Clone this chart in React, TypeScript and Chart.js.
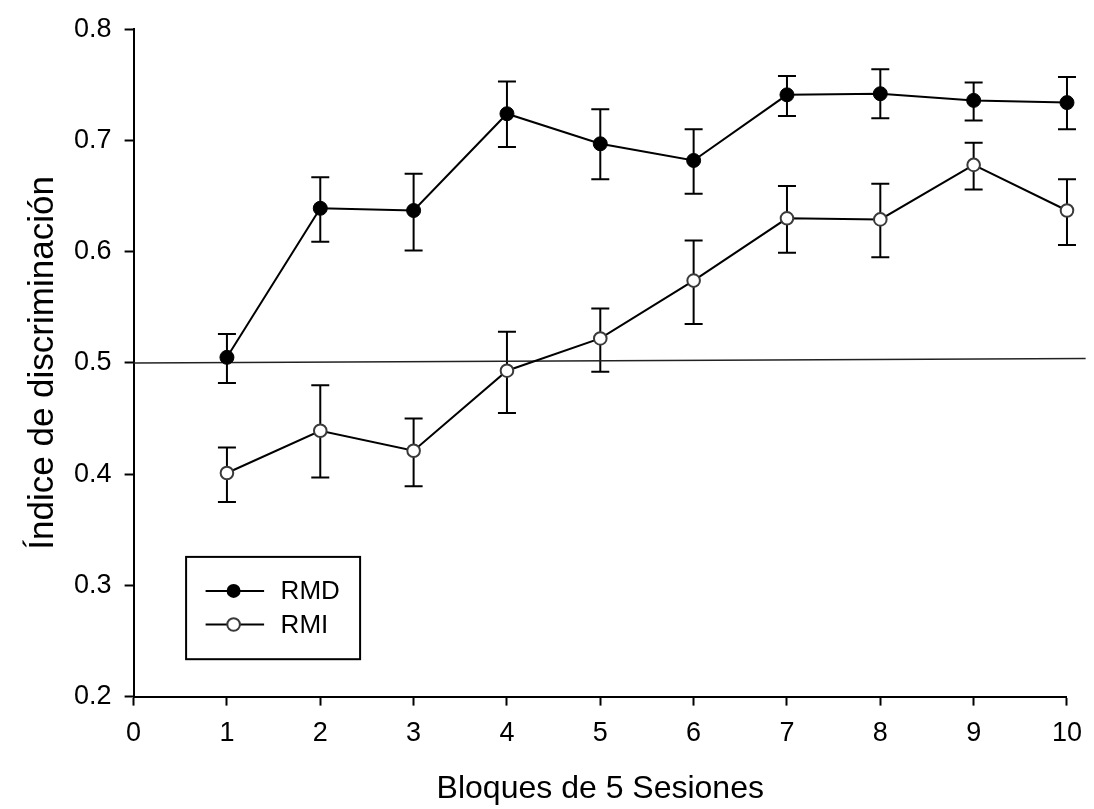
import React, { useEffect, useRef } from 'react';
import { Chart, registerables } from 'chart.js';

Chart.register(...registerables);

// ---- Data ----
const blocks = [1, 2, 3, 4, 5, 6, 7, 8, 9, 10];

const rmdMean = [0.505, 0.639, 0.637, 0.724, 0.697, 0.682, 0.741, 0.742, 0.736, 0.734];
const rmdHigh = [0.526, 0.667, 0.670, 0.753, 0.728, 0.710, 0.758, 0.764, 0.752, 0.757];
const rmdLow = [0.482, 0.609, 0.601, 0.694, 0.665, 0.652, 0.722, 0.720, 0.718, 0.710];

const rmiMean = [0.401, 0.439, 0.421, 0.493, 0.522, 0.574, 0.630, 0.629, 0.678, 0.637];
const rmiHigh = [0.424, 0.480, 0.450, 0.528, 0.549, 0.610, 0.659, 0.661, 0.698, 0.665];
const rmiLow = [0.375, 0.397, 0.389, 0.455, 0.492, 0.535, 0.599, 0.595, 0.656, 0.606];

const refX = [0, 10.2];
const refY = [0.5, 0.504];

const xTickValues = [0, 1, 2, 3, 4, 5, 6, 7, 8, 9, 10];
const yTickValues = [0.2, 0.3, 0.4, 0.5, 0.6, 0.7, 0.8];

const seriesLabels = ['RMD', 'RMI'];
const xTitle = 'Bloques de 5 Sesiones';
const yTitle = 'Índice de discriminación';

const FONT = "'Liberation Sans', Arial, Helvetica, sans-serif";

const errorBarPlugin = {
  id: 'errorBars',
  beforeDatasetsDraw(chart: any) {
    const { ctx, scales } = chart;
    const x = scales.x;
    const y = scales.y;
    const groups = [
      [rmdLow, rmdHigh],
      [rmiLow, rmiHigh],
    ];
    ctx.save();
    ctx.strokeStyle = '#000';
    ctx.lineWidth = 2;
    const cap = 9;
    groups.forEach(([lo, hi]) => {
      blocks.forEach((b, i) => {
        const px = x.getPixelForValue(b);
        const pl = y.getPixelForValue(lo[i]);
        const ph = y.getPixelForValue(hi[i]);
        ctx.beginPath();
        ctx.moveTo(px, pl);
        ctx.lineTo(px, ph);
        ctx.moveTo(px - cap, pl);
        ctx.lineTo(px + cap, pl);
        ctx.moveTo(px - cap, ph);
        ctx.lineTo(px + cap, ph);
        ctx.stroke();
      });
    });
    ctx.restore();
  },
};

const legendPlugin = {
  id: 'boxLegend',
  afterDraw(chart: any) {
    const { ctx, chartArea } = chart;
    const left = chartArea.left + 52.5;
    const top = chartArea.top + 527.7;
    const w = 174;
    const h = 102.3;
    ctx.save();
    ctx.strokeStyle = '#000';
    ctx.lineWidth = 2;
    ctx.strokeRect(left, top, w, h);
    const rows = [top + 34, top + 67.6];
    seriesLabels.forEach((label, i) => {
      const yy = rows[i];
      ctx.beginPath();
      ctx.strokeStyle = '#000';
      ctx.lineWidth = 2;
      ctx.moveTo(left + 19.5, yy);
      ctx.lineTo(left + 78, yy);
      ctx.stroke();
      ctx.beginPath();
      if (i === 0) {
        ctx.arc(left + 47.5, yy, 7, 0, Math.PI * 2);
        ctx.fillStyle = '#000';
        ctx.fill();
      } else {
        ctx.arc(left + 47.5, yy, 6.3, 0, Math.PI * 2);
        ctx.fillStyle = '#fff';
        ctx.fill();
        ctx.strokeStyle = '#3a3a3a';
        ctx.lineWidth = 2;
        ctx.stroke();
      }
      ctx.fillStyle = '#000';
      ctx.font = `26px ${FONT}`;
      ctx.textAlign = 'left';
      ctx.textBaseline = 'middle';
      ctx.fillText(label, left + 94.5, yy + 1);
    });
    ctx.restore();
  },
};

export default function App() {
  const canvasRef = useRef<HTMLCanvasElement | null>(null);

  useEffect(() => {
    document.body.style.margin = '0';
    const canvas = canvasRef.current;
    if (!canvas) return;

    const chart = new Chart(canvas, {
      type: 'line',
      data: {
        datasets: [
          {
            label: seriesLabels[0],
            data: blocks.map((b, i) => ({ x: b, y: rmdMean[i] })),
            borderColor: '#000',
            borderWidth: 2,
            pointRadius: 7,
            pointBackgroundColor: '#000',
            pointBorderColor: '#000',
            pointBorderWidth: 1,
            tension: 0,
            clip: false as any,
          },
          {
            label: seriesLabels[1],
            data: blocks.map((b, i) => ({ x: b, y: rmiMean[i] })),
            borderColor: '#000',
            borderWidth: 2,
            pointRadius: 6.3,
            pointBackgroundColor: '#fff',
            pointBorderColor: '#3a3a3a',
            pointBorderWidth: 2,
            tension: 0,
            clip: false as any,
          },
          {
            label: 'ref',
            data: refX.map((v, i) => ({ x: v, y: refY[i] })),
            borderColor: '#222',
            borderWidth: 1.5,
            pointRadius: 0,
            clip: false as any,
            tension: 0,
          },
        ],
      },
      options: {
        animation: false,
        responsive: false,
        devicePixelRatio: 1,
        events: [],
        layout: { padding: { left: 0, right: 18.3, top: 24, bottom: 0 } },
        plugins: {
          legend: { display: false },
          tooltip: { enabled: false },
        },
        scales: {
          x: {
            type: 'linear',
            min: 0,
            max: 10,
            afterBuildTicks: (s: any) => {
              s.ticks = xTickValues.map((v) => ({ value: v }));
            },
            afterFit: (s: any) => {
              s.height = 112.4;
            },
            grid: {
              drawOnChartArea: false,
              drawTicks: true,
              tickLength: 9,
              tickWidth: 2,
              tickColor: '#000',
            },
            border: { display: true, color: '#000', width: 2 },
            ticks: {
              color: '#000',
              padding: 12,
              maxRotation: 0,
              font: { family: FONT, size: 27 },
              callback: (v: any) => String(v),
            },
            title: {
              display: true,
              text: xTitle,
              color: '#000',
              font: { family: FONT, size: 32 },
              padding: { top: 0, bottom: 1 },
            },
          },
          y: {
            type: 'linear',
            min: 0.2,
            max: 0.8,
            afterBuildTicks: (s: any) => {
              s.ticks = yTickValues.map((v) => ({ value: v }));
            },
            afterFit: (s: any) => {
              s.width = 133.6;
            },
            grid: {
              drawOnChartArea: false,
              drawTicks: true,
              tickLength: 9,
              tickWidth: 2,
              tickColor: '#000',
            },
            border: { display: true, color: '#000', width: 2 },
            ticks: {
              color: '#000',
              padding: 13,
              font: { family: FONT, size: 27 },
              callback: (v: any) => Number(v).toFixed(1),
            },
            title: {
              display: true,
              text: yTitle,
              color: '#000',
              font: { family: FONT, size: 35 },
              padding: { top: 22, bottom: 0 },
            },
          },
        },
      },
      plugins: [errorBarPlugin, legendPlugin],
    });

    return () => {
      chart.destroy();
    };
  }, []);

  return (
    <div style={{ width: 1094, height: 809 }}>
      <canvas ref={canvasRef} width={1094} height={809} style={{ display: 'block' }} />
    </div>
  );
}
